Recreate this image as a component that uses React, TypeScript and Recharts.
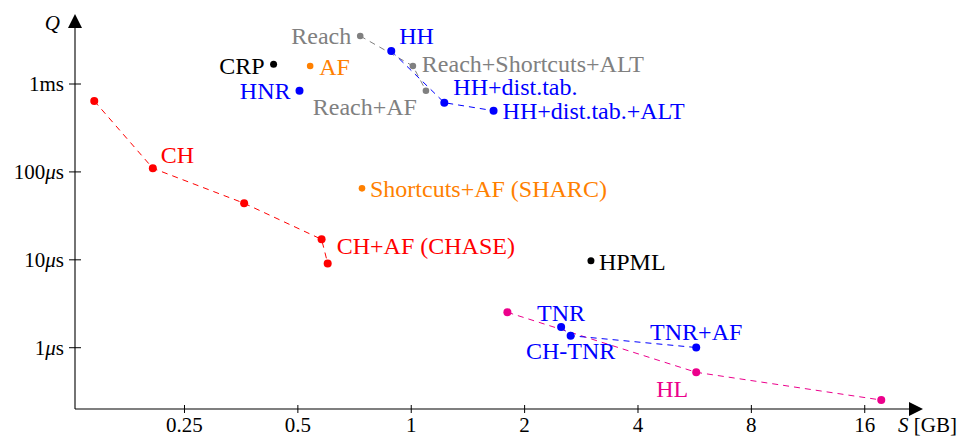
import React from "react"
import { ScatterChart, Scatter, XAxis, YAxis, ReferenceDot } from "recharts"

// S = space in GB, Q = query time in microseconds
const chSeries = [
  { s: 0.144, q: 641, name: "" },
  { s: 0.206, q: 110, name: "CH" },
  { s: 0.36, q: 44, name: "" },
  { s: 0.578, q: 17.1, name: "" },
  { s: 0.6, q: 9.1, name: "CH+AF (CHASE)" },
]
const blackPoints = [
  { s: 0.431, q: 1675, name: "CRP" },
  { s: 3.0, q: 9.77, name: "HPML" },
]
const orangePoints = [
  { s: 0.539, q: 1603, name: "AF" },
  { s: 0.74, q: 65, name: "Shortcuts+AF (SHARC)" },
]
const hnrPoints = [{ s: 0.505, q: 839, name: "HNR" }]
const hhSeries = [
  { s: 0.885, q: 2373, name: "HH" },
  { s: 1.224, q: 613, name: "HH+dist.tab." },
  { s: 1.654, q: 497, name: "HH+dist.tab.+ALT" },
]
const reachSeries = [
  { s: 0.732, q: 3516, name: "Reach" },
  { s: 1.01, q: 1603, name: "Reach+Shortcuts+ALT" },
  { s: 1.094, q: 839, name: "Reach+AF" },
]
const tnrSeries = [
  { s: 2.5, q: 1.72, name: "TNR" },
  { s: 2.65, q: 1.37, name: "CH-TNR" },
  { s: 5.71, q: 1.005, name: "TNR+AF" },
]
const hlSeries = [
  { s: 1.8, q: 2.53, name: "" },
  { s: 5.71, q: 0.525, name: "HL" },
  { s: 17.7, q: 0.254, name: "" },
]

const xTicks = [0.25, 0.5, 1, 2, 4, 8, 16]
const yTicks = [1, 10, 100, 1000]
const yTickLabels = ["1", "10", "100", "1m"]

const xDomain = [0.128, 21.1]
const yDomain = [0.2008, 4571]

const FONT = "Liberation Serif"
const txt = { fontFamily: FONT }

// where each label sits relative to its dot
const labelPos: Record<string, { dx: number; dy: number; anchor: string }> = {
  CH: { dx: 8, dy: -14, anchor: "start" },
  "CH+AF (CHASE)": { dx: 9, dy: -18, anchor: "start" },
  CRP: { dx: -9, dy: 1, anchor: "end" },
  HPML: { dx: 8, dy: 1, anchor: "start" },
  AF: { dx: 9, dy: 1, anchor: "start" },
  "Shortcuts+AF (SHARC)": { dx: 8, dy: 0, anchor: "start" },
  HNR: { dx: -9, dy: 0, anchor: "end" },
  HH: { dx: 8, dy: -15, anchor: "start" },
  "HH+dist.tab.": { dx: 9, dy: -16, anchor: "start" },
  "HH+dist.tab.+ALT": { dx: 9, dy: 0, anchor: "start" },
  Reach: { dx: -9, dy: 0, anchor: "end" },
  "Reach+Shortcuts+ALT": { dx: 9, dy: -2, anchor: "start" },
  "Reach+AF": { dx: -9, dy: 16, anchor: "end" },
  TNR: { dx: 0, dy: -14, anchor: "middle" },
  "CH-TNR": { dx: 0, dy: 15, anchor: "middle" },
  "TNR+AF": { dx: 0, dy: -16, anchor: "middle" },
  HL: { dx: -8, dy: 16, anchor: "end" },
}

const dot = (color: string, r: number) => (props: any) => {
  const { cx, cy, payload } = props
  const pos = payload.name ? labelPos[payload.name] : null
  return (
    <g>
      <circle cx={cx} cy={cy} r={r} fill={color} />
      {pos && (
        <text
          x={cx + pos.dx}
          y={cy + pos.dy}
          dy="0.35em"
          textAnchor={pos.anchor as any}
          fill={color}
          style={txt}
          fontSize={24}
        >
          {payload.name}
        </text>
      )}
    </g>
  )
}

const XTick = (props: any) => {
  const { x, y, payload } = props
  return (
    <g>
      <line x1={x} x2={x} y1={y - 4} y2={y + 4} stroke="#000" strokeWidth={1} />
      <text x={x} y={y + 16} dy="0.35em" textAnchor="middle" style={txt} fontSize={21} fill="#000">
        {payload.value}
      </text>
    </g>
  )
}

const YTick = (props: any) => {
  const { x, y, payload } = props
  const i = yTicks.indexOf(payload.value)
  const lbl = yTickLabels[i]
  const isMs = lbl.endsWith("m")
  return (
    <g>
      <line x1={x - 6} x2={x + 6} y1={y} y2={y} stroke="#000" strokeWidth={1} />
      <text x={x - 11} y={y} dy="0.35em" textAnchor="end" style={txt} fontSize={21} fill="#000">
        {isMs ? (
          "1ms"
        ) : (
          <>
            {lbl}
            <tspan fontStyle="italic">μ</tspan>s
          </>
        )}
      </text>
    </g>
  )
}

const xArrow = (props: any) => {
  const { cx, cy } = props
  return (
    <g>
      <polygon points={`${cx - 1},${cy - 7} ${cx + 13},${cy} ${cx - 1},${cy + 7}`} fill="#000" />
      <text x={cx - 12} y={cy + 16} dy="0.35em" style={txt} fontSize={21} fill="#000">
        <tspan fontStyle="italic">S</tspan> [GB]
      </text>
    </g>
  )
}

const yArrow = (props: any) => {
  const { cx, cy } = props
  return (
    <g>
      <polygon points={`${cx - 7},${cy + 2} ${cx},${cy - 12} ${cx + 7},${cy + 2}`} fill="#000" />
      <text x={cx - 15} y={cy - 3} dy="0.35em" textAnchor="end" style={txt} fontSize={21} fontStyle="italic" fill="#000">
        Q
      </text>
    </g>
  )
}

const dash = "6 5"

export default function App() {
  return (
    <div style={{ position: "absolute", left: 0, top: 0, background: "#fff", fontFamily: FONT }}>
      <ScatterChart width={964} height={437} margin={{ top: 26, right: 54, bottom: 0, left: 0 }} style={txt}>
        <XAxis
          type="number"
          dataKey="s"
          scale="log"
          domain={xDomain}
          allowDataOverflow
          ticks={xTicks}
          tick={<XTick />}
          tickLine={false}
          tickSize={0}
          tickMargin={0}
          axisLine={{ stroke: "#000", strokeWidth: 1.1 }}
          height={28}
          interval={0}
        />
        <YAxis
          type="number"
          dataKey="q"
          scale="log"
          domain={yDomain}
          allowDataOverflow
          ticks={yTicks}
          tick={<YTick />}
          tickLine={false}
          tickSize={0}
          tickMargin={0}
          axisLine={{ stroke: "#000", strokeWidth: 1.1 }}
          width={75}
          interval={0}
        />
        <Scatter data={reachSeries} fill="#808080" line={{ stroke: "#808080", strokeWidth: 1, strokeDasharray: dash }} shape={dot("#808080", 3.3)} isAnimationActive={false} />
        <Scatter data={hhSeries} fill="#0000ff" line={{ stroke: "#0000ff", strokeWidth: 1, strokeDasharray: dash }} shape={dot("#0000ff", 4)} isAnimationActive={false} />
        <Scatter data={chSeries} fill="#ff0000" line={{ stroke: "#ff0000", strokeWidth: 1, strokeDasharray: dash }} shape={dot("#ff0000", 4)} isAnimationActive={false} />
        <Scatter data={hlSeries} fill="#ec008c" line={{ stroke: "#ec008c", strokeWidth: 1, strokeDasharray: dash }} shape={dot("#ec008c", 4)} isAnimationActive={false} />
        <Scatter data={tnrSeries} fill="#0000ff" line={{ stroke: "#0000ff", strokeWidth: 1, strokeDasharray: dash }} shape={dot("#0000ff", 4)} isAnimationActive={false} />
        <Scatter data={hnrPoints} fill="#0000ff" shape={dot("#0000ff", 4)} isAnimationActive={false} />
        <Scatter data={orangePoints} fill="#ff8000" shape={dot("#ff8000", 3.3)} isAnimationActive={false} />
        <Scatter data={blackPoints} fill="#000" shape={dot("#000", 3.5)} isAnimationActive={false} />
        <ReferenceDot x={xDomain[1]} y={yDomain[0]} ifOverflow="visible" shape={xArrow} />
        <ReferenceDot x={xDomain[0]} y={yDomain[1]} ifOverflow="visible" shape={yArrow} />
      </ScatterChart>
    </div>
  )
}
